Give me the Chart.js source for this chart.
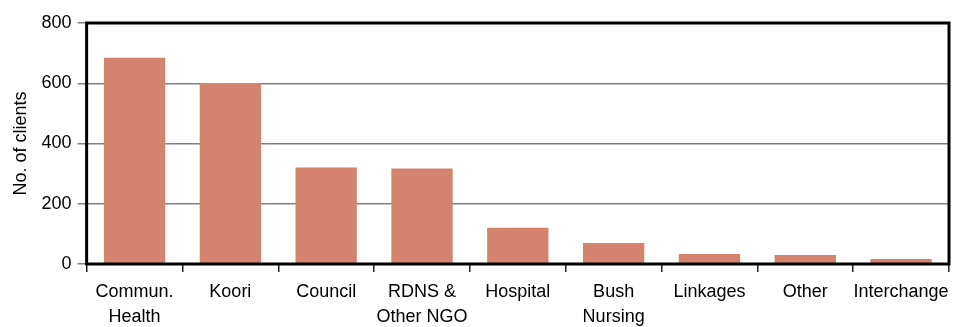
<!DOCTYPE html>
<html>
<head>
<meta charset="utf-8">
<script src="https://cdn.jsdelivr.net/npm/chart.js@4/dist/chart.umd.min.js"></script>
<style>
    html, body { margin: 0; padding: 0; background: #fff; }
    #wrap { width: 957px; height: 327px; position: relative; }
</style>
</head>
<body>
<div id="wrap"><canvas id="clients"></canvas></div>
<script>
// referral sources and client counts
var sources = [
    ["Commun.", "Health"], "Koori", "Council", ["RDNS &", "Other NGO"],
    "Hospital", ["Bush", "Nursing"], "Linkages", "Other", "Interchange"
];
var clients = [685, 601, 320, 317, 120, 70, 33, 30, 17];
var yTicks = [0, 200, 400, 600, 800];

var fontFam = "'Liberation Sans', Arial, sans-serif";

// thick black frame round the plot area
var frame = {
    id: 'frame',
    afterDatasetsDraw: function (chart) {
        var a = chart.chartArea;
        var ctx = chart.ctx;
        ctx.save();
        ctx.strokeStyle = '#000';
        ctx.lineWidth = 3;
        ctx.strokeRect(a.left, a.top, a.right - a.left, a.bottom - a.top);
        ctx.restore();
    }
};

var ctxc = document.getElementById('clients');
var myBarChart = new Chart(ctxc, {
    type: 'bar',
    data: {
        labels: sources,
        datasets: [{
            data: clients,
            backgroundColor: '#d4836f',
            borderWidth: 0,
            barPercentage: 0.64,
            categoryPercentage: 1.0
        }]
    },
    options: {
        responsive: true,
        maintainAspectRatio: false,
        animation: false,
        layout: { padding: { top: 23, right: 8, left: 10, bottom: 0 } },
        plugins: {
            legend: { display: false },
            tooltip: { enabled: false }
        },
        scales: {
            x: {
                offset: true,
                border: { display: false },
                afterFit: function (axis) {
                    // two-line labels sit tight to the bottom edge
                    axis.height = 63;
                },
                grid: {
                    offset: true,
                    drawOnChartArea: false,
                    drawTicks: true,
                    tickLength: 8,
                    color: '#222',
                    lineWidth: 1.5
                },
                ticks: {
                    color: '#000',
                    font: { family: fontFam, size: 18, lineHeight: 1.4 },
                    padding: 7,
                    maxRotation: 0,
                    autoSkip: false
                }
            },
            y: {
                min: 0,
                max: 800,
                border: { display: false },
                afterBuildTicks: function (axis) {
                    axis.ticks = yTicks.map(function (v) { return { value: v }; });
                },
                grid: {
                    color: '#808080',
                    lineWidth: 1.5,
                    tickLength: 9
                },
                ticks: {
                    color: '#000',
                    font: { family: fontFam, size: 18 },
                    padding: 6
                },
                title: {
                    display: true,
                    text: 'No. of clients',
                    color: '#000',
                    font: { family: fontFam, size: 18 },
                    padding: { top: 0, bottom: 4 }
                }
            }
        }
    },
    plugins: [frame]
});
</script>
</body>
</html>
